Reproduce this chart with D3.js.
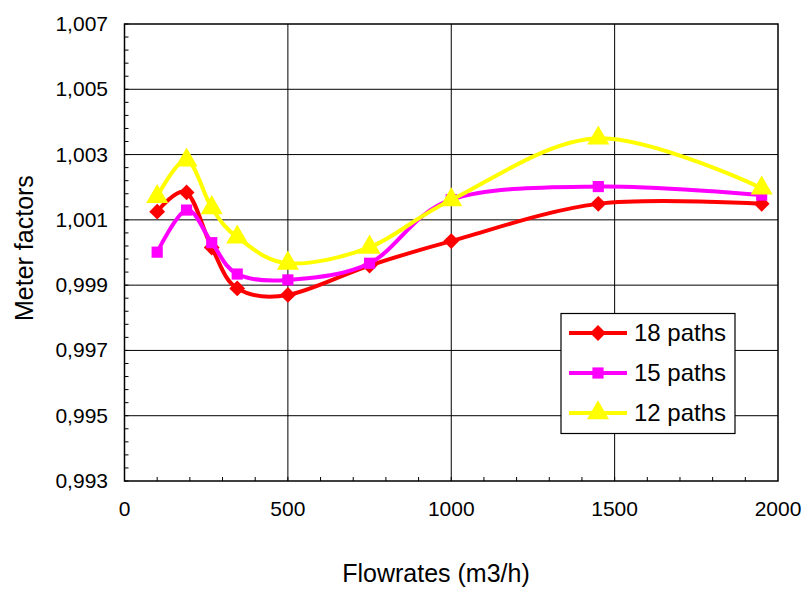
<!DOCTYPE html>
<html>
<head>
<meta charset="utf-8">
<script src="https://cdn.jsdelivr.net/npm/d3@7"></script>
<style>
  body { margin: 0; background: #fff; }
  text { font-family: "Liberation Sans", Arial, sans-serif; fill: #000; }
</style>
</head>
<body>
<svg width="806" height="591"></svg>
<script>
// data
const flows = [100, 190, 267, 345, 500, 750, 1000, 1450, 1950];
const paths18 = [1.00125, 1.00184, 1.00015, 0.99890, 0.99870, 0.99960, 1.00035, 1.00149, 1.00149];
const paths15 = [1.00001, 1.00130, 1.00030, 0.99934, 0.99916, 0.99967, 1.00162, 1.00202, 1.00176];
const paths12 = [1.00171, 1.00283, 1.00137, 1.00047, 0.99967, 1.00016, 1.00161, 1.00350, 1.00197];
const seriesNames = ["18 paths", "15 paths", "12 paths"];
const yTicks = [0.993, 0.995, 0.997, 0.999, 1.001, 1.003, 1.005, 1.007];
const xTicks = [0, 500, 1000, 1500, 2000];

const svg = d3.select("svg");
const pLeft = 124.5, pRight = 778, pTop = 24, pBottom = 481;

const x = d3.scaleLinear().domain([0, 2000]).range([pLeft, pRight]);
const y = d3.scaleLinear().domain([0.993, 1.007]).range([pBottom, pTop]);

// grid lines
svg.append("g").selectAll("line")
  .data(yTicks.slice(1, -1))
  .join("line")
  .attr("x1", pLeft).attr("x2", pRight)
  .attr("y1", d => y(d)).attr("y2", d => y(d))
  .attr("stroke", "#000").attr("stroke-width", 1);

svg.append("g").selectAll("line")
  .data(xTicks.slice(1, -1))
  .join("line")
  .attr("y1", pTop).attr("y2", pBottom)
  .attr("x1", d => x(d)).attr("x2", d => x(d))
  .attr("stroke", "#000").attr("stroke-width", 1);

// frame
svg.append("rect")
  .attr("x", pLeft).attr("y", pTop)
  .attr("width", pRight - pLeft).attr("height", pBottom - pTop)
  .attr("fill", "none").attr("stroke", "#000").attr("stroke-width", 1.5);

// minor ticks, pointing inward
const yMinor = d3.range(0, 36).map(i => 0.993 + i * 0.0004);
svg.append("g").selectAll("line")
  .data(yMinor)
  .join("line")
  .attr("x1", pLeft).attr("x2", pLeft + 4)
  .attr("y1", d => y(d)).attr("y2", d => y(d))
  .attr("stroke", "#000");

const xMinor = d3.range(100, 2000, 100);
svg.append("g").selectAll("line")
  .data(xMinor)
  .join("line")
  .attr("x1", d => x(d)).attr("x2", d => x(d))
  .attr("y1", pBottom).attr("y2", pBottom - 4)
  .attr("stroke", "#000");

// tick labels
const fmt = d => d3.format(".3f")(d).replace(".", ",");
svg.append("g").selectAll("text")
  .data(yTicks)
  .join("text")
  .attr("x", 108).attr("y", d => y(d) + 7)
  .attr("text-anchor", "end")
  .style("font-size", "21px")
  .text(fmt);

svg.append("g").selectAll("text")
  .data(xTicks)
  .join("text")
  .attr("x", d => x(d)).attr("y", 516)
  .attr("text-anchor", "middle")
  .style("font-size", "21px")
  .text(d => d);

// axis titles
svg.append("text")
  .attr("x", 436).attr("y", 582)
  .attr("text-anchor", "middle")
  .style("font-size", "25px")
  .text("Flowrates (m3/h)");

svg.append("text")
  .attr("transform", "translate(33,321) rotate(-90)")
  .attr("text-anchor", "start")
  .style("font-size", "25px")
  .text("Meter factors");

// series
const diamond = d3.symbolDiamond2 || d3.symbolDiamond;
const series = [
  { name: seriesNames[0], values: paths18, color: "#ff0000", shape: diamond, size: 160 },
  { name: seriesNames[1], values: paths15, color: "#ff00ff", shape: d3.symbolSquare, size: 125 },
  { name: seriesNames[2], values: paths12, color: "#ffff00", shape: d3.symbolTriangle, size: 210 }
];

const line = d3.line()
  .x((d, i) => x(flows[i]))
  .y(d => y(d))
  .curve(d3.curveCardinal.tension(0));

series.forEach(s => {
  svg.append("path")
    .datum(s.values)
    .attr("d", line)
    .attr("fill", "none")
    .attr("stroke", s.color)
    .attr("stroke-width", 4);

  svg.append("g").selectAll("path")
    .data(s.values)
    .join("path")
    .attr("transform", (d, i) => `translate(${x(flows[i])},${y(d)})`)
    .attr("d", d3.symbol().type(s.shape).size(s.size))
    .attr("fill", s.color);
});

// legend
const legend = svg.append("g");
legend.append("rect")
  .attr("x", 561).attr("y", 313.5)
  .attr("width", 174).attr("height", 120)
  .attr("fill", "#fff").attr("stroke", "#000").attr("stroke-width", 1.2);

const rowY = [333, 373, 413];
series.forEach((s, i) => {
  legend.append("line")
    .attr("x1", 569).attr("x2", 627)
    .attr("y1", rowY[i]).attr("y2", rowY[i])
    .attr("stroke", s.color).attr("stroke-width", 4);
  legend.append("path")
    .attr("transform", `translate(598,${rowY[i]})`)
    .attr("d", d3.symbol().type(s.shape).size(s.size))
    .attr("fill", s.color);
  legend.append("text")
    .attr("x", 634).attr("y", rowY[i] + 8)
    .style("font-size", "24px")
    .text(s.name);
});
</script>
</body>
</html>
